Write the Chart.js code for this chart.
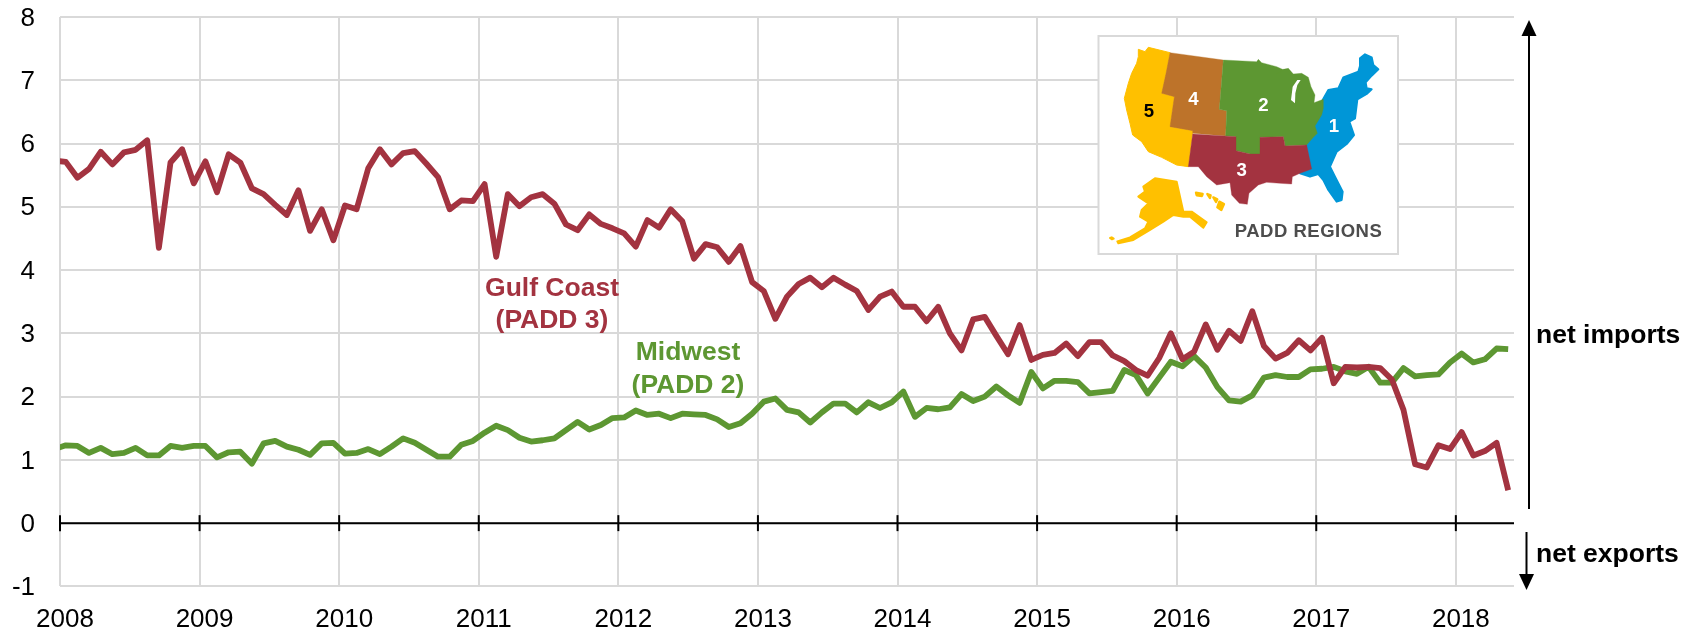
<!DOCTYPE html>
<html>
<head>
<meta charset="utf-8">
<title>Net imports by PADD</title>
<script src="https://cdn.jsdelivr.net/npm/chart.js@4"></script>
<style>html,body{margin:0;padding:0;background:#fff}canvas{display:block}</style>
</head>
<body>
<canvas id="c" width="1694" height="631"></canvas>
<script>
// Monthly values, Dec 2007 (clipped at the axis) to May 2018
const gulfCoast = [5.73,
 5.71,5.46,5.60,5.87,5.67,5.86,5.90,6.05,4.35,5.70,5.91,5.37,
 5.72,5.23,5.83,5.70,5.29,5.20,5.03,4.87,5.26,4.62,4.96,4.47,
 5.02,4.96,5.61,5.91,5.67,5.85,5.88,5.68,5.47,4.96,5.10,5.09,
 5.36,4.21,5.20,5.01,5.15,5.20,5.05,4.72,4.63,4.88,4.73,4.66,
 4.58,4.37,4.79,4.67,4.96,4.77,4.18,4.41,4.36,4.13,4.38,3.81,
 3.67,3.23,3.58,3.78,3.88,3.73,3.88,3.77,3.67,3.37,3.58,3.66,
 3.42,3.42,3.19,3.42,3.00,2.73,3.22,3.26,2.96,2.67,3.13,2.58,
 2.66,2.69,2.84,2.64,2.86,2.86,2.65,2.56,2.42,2.33,2.61,3.00,
 2.59,2.71,3.14,2.74,3.04,2.88,3.35,2.80,2.60,2.69,2.89,2.73,
 2.93,2.21,2.47,2.46,2.47,2.45,2.27,1.79,0.93,0.88,1.23,1.17,
 1.44,1.07,1.14,1.27,0.52];
const midwest = [1.17,
 1.23,1.22,1.11,1.19,1.09,1.11,1.19,1.07,1.07,1.22,1.19,1.22,
 1.22,1.04,1.12,1.13,0.94,1.26,1.30,1.21,1.16,1.08,1.26,1.27,
 1.10,1.11,1.17,1.09,1.21,1.34,1.27,1.16,1.05,1.05,1.24,1.30,
 1.43,1.54,1.47,1.35,1.29,1.31,1.34,1.47,1.60,1.48,1.55,1.66,
 1.67,1.78,1.71,1.73,1.66,1.73,1.72,1.71,1.64,1.52,1.58,1.73,
 1.92,1.97,1.79,1.75,1.59,1.75,1.89,1.89,1.75,1.91,1.82,1.91,
 2.08,1.68,1.82,1.80,1.83,2.04,1.93,2.00,2.16,2.02,1.90,2.39,
 2.13,2.25,2.25,2.23,2.05,2.07,2.09,2.42,2.34,2.05,2.30,2.55,
 2.48,2.64,2.46,2.15,1.94,1.92,2.02,2.30,2.34,2.31,2.31,2.43,
 2.44,2.47,2.40,2.36,2.47,2.22,2.22,2.45,2.32,2.34,2.35,2.54,
 2.68,2.54,2.59,2.76,2.75];
const yTicks = [-1,0,1,2,3,4,5,6,7,8];
const firstYear = 2008;
const monthsShown = 125;

const RED = '#a33340', GREEN = '#5d9732', GRID = '#d9d9d9', FONT = '"Liberation Sans", Arial, sans-serif';

function toPoints(values){ return values.map((v,i)=>({x:i-0.5,y:v})); }

// Inset map shapes (in a 3x local grid; see drawMap)
const MAP = {
  p5:[[175,88],[195,95],[205,82],[270,98],[258,160],[245,220],[283,230],[270,320],[338,332],[325,440],[290,435],[245,412],[205,395],[185,365],[158,345],[150,310],[140,270],[133,235],[145,190],[155,160],[170,130],[175,110]],
  p4:[[270,98],[430,120],[418,268],[440,272],[437,348],[338,340],[338,332],[270,320],[283,230],[245,220],[258,160]],
  p2:[[430,120],[530,125],[535,118],[545,128],[590,140],[612,150],[588,162],[610,148],[625,145],[640,162],[665,160],[685,172],[693,200],[705,225],[702,248],[730,238],[730,265],[725,285],[705,318],[712,340],[700,352],[680,375],[615,378],[610,350],[540,352],[540,402],[510,402],[468,392],[468,350],[437,348],[440,272],[418,268]],
  lake:[[652,180],[638,200],[633,240],[645,250],[646,220],[652,195],[662,180]],
  p3:[[338,342],[468,350],[468,392],[510,402],[540,402],[540,352],[610,350],[615,378],[680,375],[695,447],[660,460],[637,470],[635,492],[600,490],[560,487],[535,495],[507,520],[502,553],[478,550],[455,525],[450,488],[410,495],[380,470],[355,440],[325,440]],
  p1:[[728,240],[745,210],[775,205],[790,172],[835,155],[840,138],[840,115],[855,103],[875,112],[880,135],[895,148],[875,167],[857,187],[860,205],[875,208],[860,222],[832,238],[825,295],[808,305],[822,345],[800,372],[770,395],[750,440],[765,470],[788,515],[785,540],[770,545],[745,510],[730,480],[715,462],[690,470],[660,460],[695,447],[680,375],[700,352],[712,340],[705,318],[725,285]],
  alaska:[[225,475],[290,485],[310,575],[335,575],[380,607],[370,623],[330,590],[310,590],[280,585],[250,605],[210,630],[160,660],[115,670],[112,664],[150,652],[195,625],[205,605],[180,590],[185,570],[205,550],[175,530],[195,515],[190,500]],
  hawaii:[[[348,518],[368,522],[366,528],[350,526]],[[382,522],[392,526],[390,534]],[[400,532],[412,538],[408,546]],[[418,545],[432,552],[424,570],[412,562]]],
  aleut:[[95,652],[101,656],[96,658],[90,654]]
};
const COL = {p1:'#0096d7',p2:'#5d9732',p3:'#a33340',p4:'#bd732a',p5:'#ffc000'};

function poly(ctx,pts,color,sw){
  ctx.beginPath();
  pts.forEach((p,i)=> i?ctx.lineTo(p[0],p[1]):ctx.moveTo(p[0],p[1]));
  ctx.closePath();
  ctx.fillStyle=color; ctx.fill();
  if(sw){ctx.strokeStyle=color;ctx.lineWidth=sw;ctx.lineJoin='round';ctx.stroke();}
}
function drawMap(ctx){
  ctx.save();
  ctx.fillStyle='#fff'; ctx.strokeStyle=GRID; ctx.lineWidth=2;
  ctx.fillRect(1098.5,36,299.5,218); ctx.strokeRect(1098.5,36,299.5,218);
  ctx.translate(1080,20); ctx.scale(1/3,1/3);
  poly(ctx,MAP.p5,COL.p5,3);
  poly(ctx,MAP.alaska,COL.p5,6);
  poly(ctx,MAP.aleut,COL.p5,6);
  MAP.hawaii.forEach(h=>poly(ctx,h,COL.p5,7));
  poly(ctx,MAP.p1,COL.p1,6);
  poly(ctx,MAP.p4,COL.p4,1);
  poly(ctx,MAP.p2,COL.p2,1);
  poly(ctx,MAP.p3,COL.p3,1);
  poly(ctx,MAP.lake,'#fff',0);
  ctx.textAlign='center'; ctx.textBaseline='middle';
  ctx.font='bold 56px '+FONT;
  ctx.fillStyle='#000'; ctx.fillText('5',207,275);
  ctx.fillStyle='#fff';
  ctx.fillText('4',340,240); ctx.fillText('2',550,257); ctx.fillText('1',762,320); ctx.fillText('3',485,453);
  ctx.restore();
  ctx.save();
  ctx.font='bold 18.5px '+FONT; ctx.fillStyle='#4d4d4d';
  ctx.textAlign='center'; ctx.textBaseline='middle';
  ctx.letterSpacing='0.5px';
  ctx.fillText('PADD REGIONS',1308.5,231.5);
  ctx.restore();
}
function arrow(ctx,x,y1,y2){
  const dir=y2>y1?1:-1;
  ctx.strokeStyle='#000'; ctx.fillStyle='#000'; ctx.lineWidth=2;
  ctx.beginPath(); ctx.moveTo(x,y1); ctx.lineTo(x,y2-dir*14); ctx.stroke();
  ctx.beginPath(); ctx.moveTo(x,y2); ctx.lineTo(x-7.5,y2-dir*16); ctx.lineTo(x+7.5,y2-dir*16); ctx.closePath(); ctx.fill();
}
const overlay = {
  id:'overlay',
  beforeDatasetsDraw(chart){
    const ctx=chart.ctx, x=chart.scales.x, y=chart.scales.y, y0=y.getPixelForValue(0);
    ctx.save();
    ctx.strokeStyle='#000'; ctx.lineWidth=2;
    ctx.beginPath(); ctx.moveTo(x.left,y0); ctx.lineTo(x.right,y0); ctx.stroke();
    x.ticks.forEach(t=>{
      const px=x.getPixelForValue(t.value);
      ctx.beginPath(); ctx.moveTo(px,y0-8); ctx.lineTo(px,y0+8); ctx.stroke();
    });
    ctx.restore();
  },
  afterDraw(chart){
    const ctx=chart.ctx;
    ctx.save();
    drawMap(ctx);
    arrow(ctx,1529,509,20);
    arrow(ctx,1526.5,532,590);
    ctx.textBaseline='middle'; ctx.font='bold 26.5px '+FONT;
    ctx.textAlign='left'; ctx.fillStyle='#000';
    ctx.fillText('net imports',1536,336);
    ctx.fillText('net exports',1536,555);
    ctx.textAlign='center';
    ctx.fillStyle=RED;
    ctx.fillText('Gulf Coast',552,289); ctx.fillText('(PADD 3)',552,321);
    ctx.fillStyle=GREEN;
    ctx.fillText('Midwest',688,353); ctx.fillText('(PADD 2)',688,386);
    ctx.restore();
  }
};

new Chart(document.getElementById('c'),{
  type:'line',
  data:{datasets:[
    {label:'Gulf Coast (PADD 3)',data:toPoints(gulfCoast),borderColor:RED,borderWidth:5.8,pointRadius:0,tension:0,borderJoinStyle:'round'},
    {label:'Midwest (PADD 2)',data:toPoints(midwest),borderColor:GREEN,borderWidth:5.8,pointRadius:0,tension:0,borderJoinStyle:'round'}
  ]},
  options:{
    responsive:false,animation:false,devicePixelRatio:1,
    layout:{padding:{left:0,top:17,right:180,bottom:0}},
    plugins:{legend:{display:false},tooltip:{enabled:false}},
    scales:{
      x:{type:'linear',min:0,max:monthsShown,
        afterFit(s){s.height=44.6;s.paddingLeft=0;s.paddingRight=0;},
        border:{display:false},
        grid:{color:GRID,lineWidth:2,drawTicks:false},
        afterBuildTicks(s){s.ticks=s.ticks.filter(t=>t.value%12===0);},
        ticks:{stepSize:12,includeBounds:false,autoSkip:false,maxRotation:0,padding:18,labelOffset:5,color:'#000',
          font:{family:FONT,size:26},
          callback:v=>String(firstYear+v/12)}},
      y:{type:'linear',min:yTicks[0],max:yTicks[yTicks.length-1],
        afterFit(s){s.width=60;s.paddingTop=0;s.paddingBottom=0;},
        border:{display:false},
        grid:{color:GRID,lineWidth:2,drawTicks:false},
        ticks:{stepSize:1,padding:25,labelOffset:1.5,color:'#000',font:{family:FONT,size:26}}}
    }
  },
  plugins:[overlay]
});
</script>
</body>
</html>
